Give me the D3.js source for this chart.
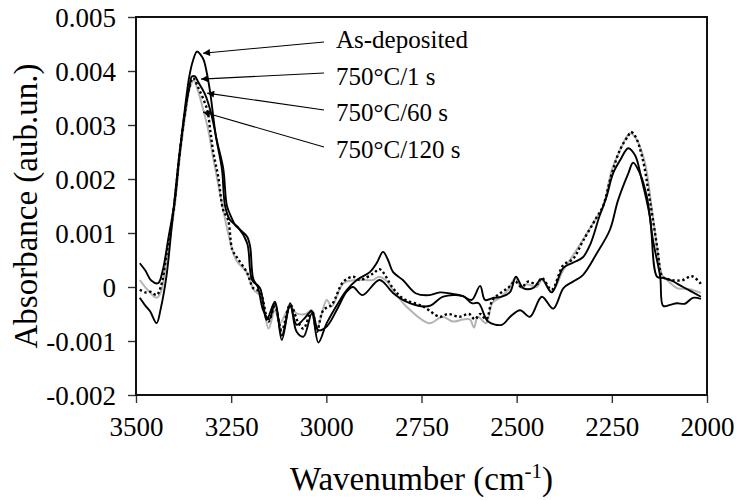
<!DOCTYPE html>
<html><head><meta charset="utf-8">
<script src="https://cdn.jsdelivr.net/npm/d3@7"></script>
<style>html,body{margin:0;padding:0;background:#fff;}
svg text{font-family:"Liberation Serif","Times New Roman","DejaVu Serif",serif;}</style>
</head><body>
<svg id="chart" width="737" height="500"></svg>
<script>
// ---------- data ----------
const seriesNames = ["As-deposited", "750°C/1 s", "750°C/60 s", "750°C/120 s"];
const xTicks = [3500, 3250, 3000, 2750, 2500, 2250, 2000];
const yTicks = [-0.002, -0.001, 0, 0.001, 0.002, 0.003, 0.004, 0.005];
const yTickLabels = ["-0.002", "-0.001", "0", "0.001", "0.002", "0.003", "0.004", "0.005"];

const asDepWn = [3490,3475,3463,3446,3435,3420,3405,3390,3375,3360,3350,3340,3330,3322,3315,3305,3290,3271,3261,3250,3240,3227,3208,3200,3192,3180,3166,3150,3135,3117,3095,3078,3060,3038,3021,2999,2973,2947,2930,2905,2860,2825,2790,2745,2725,2693,2641,2618,2600,2575,2539,2517,2491,2465,2434,2404,2377,2352,2326,2289,2255,2234,2207,2194,2176,2158,2142,2123,2115,2097,2079,2058,2037,2016];
const asDepVal = [-0.0002,-0.00035,-0.00045,-0.00067,-0.0004,0.0002,0.0012,0.0022,0.0031,0.0039,0.0042,0.00436,0.0043,0.0042,0.0040,0.0036,0.0028,0.0022,0.0015,0.0013,0.00115,0.00106,0.00093,0.00074,0.00015,0.0,-0.00043,-0.0006,-0.0003,-0.0009,-0.00035,-0.0007,-0.0006,-0.00045,-0.0008,-0.00073,-0.00043,-0.00009,0.0,-0.00015,0.00013,-0.00011,-0.00027,-0.00036,-0.00034,-0.00018,-0.00017,-0.0003,-0.0003,-0.00064,-0.0007,-0.00055,-0.00043,-0.00055,-0.00018,-0.0004,-0.00002,0.0001,0.00022,0.00063,0.00106,0.0016,0.0021,0.0023,0.0021,0.00167,0.00087,0.00019,-0.00035,-0.00033,-0.0003,-0.00031,-0.0002,-0.00022];

const s1Wn = [3490,3475,3460,3442,3430,3415,3398,3385,3370,3360,3353,3345,3337,3318,3305,3297,3287,3274,3266,3253,3232,3208,3195,3174,3157,3135,3117,3095,3078,3060,3038,3021,2999,2964,2947,2920,2885,2868,2851,2838,2825,2799,2764,2729,2702,2675,2641,2618,2596,2583,2560,2539,2517,2502,2483,2457,2434,2408,2378,2352,2326,2306,2283,2264,2247,2228,2207,2189,2172,2150,2131,2116,2097,2063,2016];
const s1Val = [0.00044,0.0003,0.00012,0.00007,0.0003,0.0009,0.0016,0.0025,0.0033,0.0037,0.0039,0.0039,0.0038,0.00356,0.00328,0.00304,0.00267,0.00217,0.0015,0.00124,0.00111,0.00081,0.00013,-0.00002,-0.00061,-0.00027,-0.00098,-0.0003,-0.00083,-0.00092,-0.00049,-0.00103,-0.00067,-0.00024,-0.00006,0.00013,0.00028,0.00044,0.00065,0.0005,0.00028,0.00013,-0.00012,-0.00015,-0.0001,-0.00012,-0.00017,-0.00024,0.00002,-0.00024,-0.0002,-0.00018,-0.00009,0.00019,-0.00002,-0.00002,0.00015,-0.0001,0.00035,0.00045,0.00055,0.0008,0.0013,0.00167,0.0021,0.00235,0.00257,0.00244,0.002,0.0013,0.00019,0.00017,0.00013,0.0,-0.00018];

const s60Wn = [3490,3475,3461,3446,3435,3420,3400,3385,3370,3360,3350,3337,3313,3305,3297,3284,3271,3258,3247,3234,3208,3192,3174,3152,3135,3117,3095,3073,3060,3038,3025,3008,2986,2955,2929,2912,2877,2860,2825,2799,2746,2702,2680,2650,2625,2610,2596,2580,2564,2544,2523,2504,2487,2470,2447,2434,2408,2378,2352,2326,2289,2273,2250,2228,2207,2200,2189,2170,2150,2130,2118,2105,2085,2063,2040,2016];
const s60Val = [-0.00005,-0.0001,-0.00009,-0.00015,0.0,0.0006,0.0015,0.0025,0.0033,0.0037,0.00387,0.0037,0.00328,0.0029,0.0025,0.00204,0.00143,0.00124,0.00069,0.00054,0.00026,-0.00002,-0.00009,-0.00064,-0.00036,-0.0008,-0.00033,-0.00067,-0.00077,-0.00043,-0.00083,-0.00043,-0.00033,0.0001,0.00019,0.00013,0.00025,0.00033,-0.00002,-0.00021,-0.00036,-0.00055,-0.0005,-0.00055,-0.0005,-0.0006,-0.0005,-0.0006,-0.00025,-0.00012,-0.00002,0.0001,0.0,0.0001,0.00005,0.00017,-0.00005,0.0004,0.00052,0.00085,0.0013,0.0015,0.0021,0.00255,0.0028,0.00287,0.0028,0.0024,0.0016,0.0007,0.0002,0.00015,0.00012,0.00013,0.0002,0.00006];

const s120Wn = [3490,3470,3446,3435,3420,3400,3385,3370,3358,3348,3340,3325,3310,3300,3292,3271,3258,3237,3210,3190,3171,3152,3135,3122,3095,3078,3055,3038,3025,2999,2986,2955,2920,2877,2862,2840,2825,2790,2730,2702,2693,2667,2641,2623,2612,2602,2580,2564,2544,2523,2504,2487,2474,2447,2434,2408,2378,2360,2326,2289,2273,2250,2228,2202,2184,2163,2142,2116,2105,2079,2045,2016];
const s120Val = [0.00013,-0.00005,-0.0002,-0.0001,0.0005,0.0014,0.0024,0.0032,0.0037,0.00383,0.0037,0.00333,0.0029,0.0025,0.0022,0.00143,0.001,0.0005,0.00028,-0.00006,-0.00018,-0.00077,-0.00043,-0.00067,-0.00036,-0.00049,-0.0005,-0.00043,-0.00077,-0.00024,-0.00036,0.00007,0.00013,0.00013,0.00019,0.0001,-0.00006,-0.00036,-0.00067,-0.00057,-0.00055,-0.00064,-0.0006,-0.0006,-0.00075,-0.00055,-0.00067,-0.0003,-0.0002,-0.00006,0.00016,-0.00002,0.00005,0.0,0.00013,-0.00009,0.00031,0.0005,0.00087,0.0013,0.00148,0.00217,0.00254,0.00285,0.00272,0.0023,0.0013,0.00019,0.00013,-0.00002,-0.00004,-0.00011];

// annotation arrow tips (wavenumber, absorbance), same order as seriesNames
const tipWn = [3324, 3329, 3313, 3324];
const tipVal = [0.00433, 0.00385, 0.00359, 0.00324];

// ---------- layout ----------
const svg = d3.select("#chart");
const M = {left: 136, right: 707, top: 17, bottom: 395};
const x = d3.scaleLinear().domain([3500, 2000]).range([M.left, M.right]);
const y = d3.scaleLinear().domain([-0.002, 0.005]).range([M.bottom, M.top]);

const series = [
  {wn: s120Wn, val: s120Val, stroke: "#b3b3b3", width: 2, dash: null},
  {wn: s60Wn, val: s60Val, stroke: "#000", width: 2.4, dash: "2.4,2.6"},
  {wn: s1Wn, val: s1Val, stroke: "#000", width: 1.9, dash: null},
  {wn: asDepWn, val: asDepVal, stroke: "#000", width: 1.9, dash: null}
];

const line = d3.line().x(d => x(d[0])).y(d => y(d[1])).curve(d3.curveCatmullRom.alpha(0.5));
series.forEach(s => {
  svg.append("path")
    .datum(s.wn.map((w, i) => [w, s.val[i]]))
    .attr("d", line)
    .attr("fill", "none")
    .attr("stroke", s.stroke)
    .attr("stroke-width", s.width)
    .attr("stroke-linejoin", "round")
    .attr("stroke-dasharray", s.dash);
});

// axes
const yAxis = d3.axisLeft(y).tickValues(yTicks).tickFormat((d, i) => yTickLabels[i]).tickSize(8).tickPadding(12);
const gy = svg.append("g").attr("transform", `translate(${M.left},0)`).call(yAxis);
const xAxis = d3.axisBottom(x).tickValues(xTicks).tickFormat(d3.format("d")).tickSize(8).tickPadding(14);
const gx = svg.append("g").attr("transform", `translate(0,${M.bottom})`).call(xAxis);
[gx, gy].forEach(g => {
  g.attr("font-family", null);
  g.select(".domain").remove();
  g.selectAll(".tick line").attr("stroke", "#333").attr("stroke-width", 1.4);
  g.selectAll(".tick text").attr("font-size", 27).attr("fill", "#000");
});
gy.selectAll(".tick text").attr("dy", "0.34em");

// frame
svg.append("rect").attr("x", M.left).attr("y", M.top)
  .attr("width", M.right - M.left).attr("height", M.bottom - M.top)
  .attr("fill", "none").attr("stroke", "#111").attr("stroke-width", 2);

// axis titles
svg.append("text").attr("transform", "translate(37,206) rotate(-90)")
  .attr("text-anchor", "middle").attr("font-size", 33)
  .text("Absorbance (aub.un.)");
const xt = svg.append("text").attr("x", (M.left + M.right) / 2).attr("y", 490)
  .attr("text-anchor", "middle").attr("font-size", 33);
xt.append("tspan").text("Wavenumber (cm");
xt.append("tspan").attr("font-size", 21).attr("dy", -12).text("-1");
xt.append("tspan").attr("dy", 12).text(")");

// annotations
svg.append("defs").append("marker").attr("id", "ah")
  .attr("viewBox", "0 0 10 10").attr("refX", 10).attr("refY", 5)
  .attr("markerWidth", 10).attr("markerHeight", 7).attr("markerUnits", "userSpaceOnUse")
  .attr("orient", "auto")
  .append("path").attr("d", "M0,0 L10,5 L0,10 Z").attr("fill", "#000");

const labelX = 336, labelY0 = 48, labelStep = 36.7;
const startY = [42, 73, 110, 147];
seriesNames.forEach((name, i) => {
  svg.append("line")
    .attr("x1", labelX - 12).attr("y1", startY[i])
    .attr("x2", x(tipWn[i])).attr("y2", y(tipVal[i]))
    .attr("stroke", "#000").attr("stroke-width", 1.1)
    .attr("marker-end", "url(#ah)");
  svg.append("text").attr("x", labelX).attr("y", labelY0 + i * labelStep)
    .attr("font-size", 25).text(name);
});
</script>
</body></html>
